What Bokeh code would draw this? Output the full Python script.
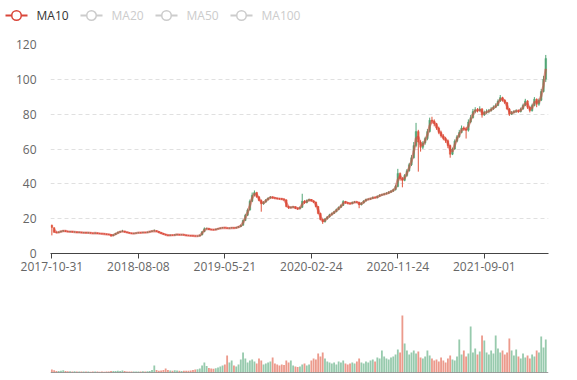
from bokeh.plotting import figure
from bokeh.layouts import column, row
from bokeh.models import ColumnDataSource, Range1d, FixedTicker, Span
from bokeh.core.properties import value
from bokeh.embed import file_html
from bokeh.resources import INLINE
import numpy as np

# ---- data (weekly candles, each candle = 5 trading days) ----
open_ = [16.2, 14.8, 12.3, 12.0, 12.4, 12.8, 13.0, 12.7, 12.4, 12.6,
         12.3, 12.4, 12.1, 12.2, 11.9, 12.0, 11.8, 11.9, 11.7, 11.6,
         11.8, 11.5, 11.4, 11.3, 11.2, 11.0, 10.9, 10.2, 10.8, 11.6,
         12.2, 12.6, 12.8, 12.3, 12.0, 11.7, 11.5, 11.6, 11.8, 12.0,
         11.9, 12.1, 12.0, 12.3, 12.6, 12.9, 13.0, 12.6, 12.0, 11.5,
         11.0, 10.6, 10.4, 10.6, 10.5, 10.8, 10.9, 10.7, 10.8, 10.6,
         10.4, 10.3, 10.2, 10.1, 10.0, 10.0, 10.6, 12.5, 14.2, 14.3,
         13.8, 13.7, 13.6, 14.0, 14.3, 14.6, 14.8, 14.7, 14.5, 14.6,
         14.8, 14.6, 15.0, 15.4, 16.2, 19.0, 22.0, 25.0, 30.0, 33.5,
         35.0, 32.5, 30.5, 28.5, 29.5, 30.8, 31.8, 32.4, 32.0, 31.8,
         31.5, 31.4, 31.2, 30.8, 27.0, 26.2, 26.6, 26.8, 26.0, 25.7,
         26.5, 30.0, 29.2, 30.5, 31.0, 30.2, 29.5, 27.0, 23.0, 19.5,
         18.2, 19.8, 21.0, 22.2, 23.0, 24.0, 25.2, 26.5, 27.6, 29.8,
         29.2, 28.8, 28.6, 29.3, 29.6, 29.4, 28.0, 29.0, 30.2, 31.0,
         31.2, 31.6, 32.2, 32.0, 32.8, 33.5, 33.8, 34.2, 34.6, 35.2,
         35.8, 36.6, 38.5, 46.0, 43.0, 42.0, 44.8, 47.5, 51.0, 55.0,
         62.0, 70.0, 64.0, 61.0, 63.5, 66.0, 70.0, 76.5, 76.0, 74.5,
         72.0, 69.5, 67.5, 66.0, 64.8, 62.0, 57.0, 60.0, 64.5, 67.0,
         69.5, 72.0, 71.5, 70.8, 75.5, 78.0, 81.5, 82.5, 82.0, 83.0,
         79.5, 81.0, 81.5, 82.0, 83.0, 84.0, 85.0, 87.5, 89.5, 88.0,
         86.6, 83.0, 80.0, 81.0, 81.5, 82.0, 81.5, 83.0, 85.0, 87.6,
         84.0, 82.0, 85.0, 88.6, 85.7, 88.0, 93.0, 100.0]
close = [15.0, 12.2, 12.0, 12.4, 12.8, 13.1, 12.7, 12.5, 12.6, 12.3,
         12.4, 12.1, 12.2, 11.9, 12.0, 11.8, 11.9, 11.7, 11.6, 11.8,
         11.5, 11.4, 11.3, 11.2, 11.0, 10.9, 10.2, 10.8, 11.6, 12.2,
         12.6, 12.8, 12.3, 12.0, 11.7, 11.5, 11.6, 11.8, 11.9, 11.9,
         12.1, 12.0, 12.3, 12.6, 12.9, 13.0, 12.6, 12.0, 11.5, 11.0,
         10.6, 10.4, 10.6, 10.5, 10.8, 10.9, 10.7, 10.8, 10.6, 10.4,
         10.3, 10.2, 10.1, 10.0, 10.0, 10.6, 12.5, 14.2, 14.3, 13.8,
         13.7, 13.6, 14.0, 14.3, 14.6, 14.8, 14.7, 14.5, 14.6, 14.8,
         14.6, 15.0, 15.4, 16.2, 19.0, 22.0, 25.0, 30.0, 33.5, 35.0,
         32.5, 30.5, 28.5, 29.5, 30.8, 31.8, 32.4, 32.0, 31.8, 31.5,
         31.4, 31.2, 30.8, 27.0, 26.2, 26.6, 26.8, 26.0, 25.7, 26.5,
         30.0, 29.2, 30.5, 31.0, 30.2, 29.5, 27.0, 23.0, 19.5, 18.2,
         19.8, 21.0, 22.2, 23.0, 24.0, 25.2, 26.5, 27.6, 29.8, 29.2,
         28.8, 28.6, 29.3, 29.6, 29.4, 28.0, 29.0, 30.2, 31.0, 31.2,
         31.6, 32.2, 32.0, 32.8, 33.5, 33.8, 34.2, 34.6, 35.2, 35.8,
         36.6, 38.5, 46.0, 43.0, 42.0, 44.8, 47.5, 51.0, 55.0, 62.0,
         70.0, 64.0, 61.0, 63.5, 66.0, 70.0, 76.5, 76.0, 74.5, 72.0,
         69.5, 67.5, 66.0, 64.8, 62.0, 57.0, 60.0, 64.5, 67.0, 69.5,
         72.0, 71.5, 70.8, 75.5, 78.0, 81.5, 82.5, 82.0, 83.0, 79.5,
         81.0, 81.5, 82.0, 83.0, 84.0, 85.0, 87.5, 89.5, 88.0, 86.6,
         83.0, 80.0, 81.0, 81.5, 82.0, 81.5, 83.0, 85.0, 87.6, 84.0,
         82.0, 85.0, 88.6, 85.7, 88.0, 93.0, 100.0, 112.0]
high = [16.6, 15.0, 12.6, 12.6, 13.0, 13.4, 13.2, 12.9, 12.8, 12.7,
        12.6, 12.5, 12.4, 12.3, 12.2, 12.1, 12.1, 12.0, 11.8, 12.0,
        11.9, 11.7, 11.6, 11.4, 11.3, 11.2, 11.0, 11.0, 11.8, 12.5,
        13.0, 13.6, 12.9, 12.4, 12.1, 11.8, 11.8, 12.0, 12.1, 12.1,
        12.3, 12.3, 12.5, 12.8, 13.3, 13.8, 13.2, 12.7, 12.1, 11.6,
        11.1, 10.8, 10.8, 10.7, 11.0, 11.1, 11.0, 11.0, 10.9, 10.7,
        10.5, 10.4, 10.3, 10.2, 10.2, 10.8, 12.8, 15.0, 14.8, 14.4,
        14.0, 13.9, 14.2, 14.5, 14.9, 15.1, 15.0, 14.8, 14.8, 15.0,
        14.9, 15.2, 15.7, 16.6, 19.5, 22.8, 25.8, 31.0, 35.0, 36.2,
        35.4, 33.0, 31.0, 30.0, 31.2, 32.2, 33.0, 32.8, 32.3, 32.0,
        31.9, 31.8, 31.5, 31.0, 27.4, 27.0, 27.2, 27.0, 26.4, 27.0,
        34.3, 30.6, 31.0, 31.5, 31.2, 30.5, 29.8, 27.3, 23.4, 20.0,
        20.3, 21.5, 22.8, 23.5, 24.5, 25.8, 27.0, 28.2, 30.6, 30.2,
        29.6, 29.2, 29.8, 30.2, 30.0, 29.7, 29.4, 30.6, 31.5, 31.7,
        32.0, 32.7, 32.6, 33.3, 34.0, 34.3, 34.8, 35.2, 35.8, 36.4,
        37.2, 39.5, 48.6, 46.5, 43.8, 45.6, 48.5, 52.0, 56.5, 64.0,
        75.0, 71.0, 65.0, 64.5, 67.0, 71.5, 78.0, 78.5, 77.0, 75.0,
        72.8, 70.5, 68.5, 67.0, 65.5, 62.5, 60.8, 65.5, 68.0, 71.0,
        73.5, 73.0, 72.5, 77.0, 79.5, 83.0, 84.0, 83.5, 84.5, 83.5,
        82.0, 82.8, 83.0, 84.0, 85.0, 86.2, 88.5, 91.0, 90.0, 88.5,
        87.0, 83.5, 81.8, 82.3, 82.8, 82.6, 83.8, 86.0, 88.8, 88.0,
        84.5, 86.0, 89.8, 89.0, 89.0, 94.5, 102.0, 114.0]
low = [10.4, 11.8, 11.7, 11.8, 12.2, 12.6, 12.5, 12.3, 12.3, 12.1,
       12.1, 12.0, 11.9, 11.8, 11.8, 11.6, 11.6, 11.5, 11.4, 11.5,
       11.3, 11.2, 11.1, 11.0, 10.8, 10.7, 9.6, 10.0, 10.7, 11.4,
       12.0, 12.4, 12.1, 11.8, 11.5, 11.3, 11.3, 11.5, 11.7, 11.7,
       11.8, 11.8, 11.9, 12.2, 12.5, 12.7, 12.5, 11.9, 11.4, 10.9,
       10.5, 10.2, 10.3, 10.3, 10.4, 10.6, 10.5, 10.6, 10.4, 10.2,
       10.1, 10.0, 9.9, 9.8, 9.8, 9.9, 10.5, 12.3, 13.8, 13.5,
       13.4, 13.4, 13.5, 13.9, 14.2, 14.5, 14.5, 14.3, 14.3, 14.5,
       14.3, 14.4, 14.9, 15.2, 16.0, 18.6, 21.5, 24.6, 29.5, 32.8,
       32.0, 30.0, 24.0, 28.0, 29.2, 30.5, 31.5, 31.5, 31.2, 31.0,
       30.9, 30.8, 30.2, 26.5, 25.6, 25.9, 26.2, 25.5, 25.0, 25.3,
       26.2, 28.5, 28.8, 30.0, 29.8, 29.0, 26.5, 22.5, 19.0, 17.0,
       17.8, 19.5, 20.6, 21.8, 22.7, 23.7, 24.9, 26.2, 27.3, 28.6,
       28.3, 28.1, 28.3, 29.0, 29.0, 26.0, 27.6, 28.7, 29.8, 30.6,
       30.9, 31.3, 31.6, 31.7, 32.5, 33.1, 33.5, 33.9, 34.2, 34.8,
       35.4, 36.2, 38.0, 41.8, 38.0, 41.5, 44.0, 47.0, 50.2, 54.5,
       61.0, 47.0, 58.5, 60.0, 62.5, 65.0, 69.5, 74.5, 73.0, 71.0,
       68.5, 66.5, 65.0, 63.5, 60.5, 55.0, 56.5, 59.5, 63.8, 66.5,
       69.0, 70.5, 66.0, 70.0, 74.8, 77.5, 80.5, 81.0, 81.5, 78.0,
       79.0, 80.2, 80.5, 81.5, 82.5, 83.5, 84.6, 87.0, 87.2, 85.8,
       82.5, 79.0, 79.5, 80.4, 80.8, 80.8, 81.0, 82.5, 84.6, 83.0,
       81.0, 81.5, 84.5, 84.0, 84.8, 87.5, 92.5, 98.5]
volume = [3.0, 2.2, 1.5, 1.4, 1.8, 2.2, 1.6, 1.3, 1.2, 1.1,
          1.2, 1.0, 1.1, 0.9, 1.0, 0.9, 1.0, 0.8, 0.9, 1.0,
          0.9, 0.8, 0.9, 0.8, 0.9, 1.0, 1.6, 1.4, 1.5, 1.8,
          1.6, 2.0, 1.4, 1.1, 1.0, 0.9, 0.9, 1.0, 1.0, 1.1,
          1.2, 1.1, 1.3, 1.6, 2.4, 7.0, 2.5, 1.8, 2.0, 2.6,
          4.0, 2.4, 2.0, 1.7, 2.2, 2.0, 1.8, 1.6, 1.8, 1.7,
          1.8, 2.0, 2.4, 3.0, 3.2, 4.0, 7.0, 10.0, 6.5, 4.5,
          4.0, 3.8, 4.2, 5.0, 6.0, 7.0, 8.0, 17.0, 10.0, 12.0,
          7.0, 6.0, 8.0, 13.0, 20.0, 14.0, 10.0, 12.0, 13.0, 11.0,
          9.0, 14.0, 12.0, 8.0, 9.0, 10.0, 11.0, 15.0, 9.0, 8.0,
          7.0, 8.0, 7.5, 12.0, 10.0, 12.0, 7.0, 6.0, 5.5, 6.0,
          8.0, 9.0, 7.0, 8.0, 12.0, 14.0, 13.0, 19.0, 16.0, 20.0,
          14.0, 11.0, 10.0, 9.0, 10.0, 8.0, 11.0, 10.0, 12.0, 9.0,
          8.0, 9.0, 10.0, 9.0, 11.0, 14.0, 10.0, 9.0, 11.0, 10.0,
          12.0, 13.0, 11.0, 15.0, 14.0, 22.0, 16.0, 14.0, 13.0, 15.0,
          16.0, 18.0, 23.0, 20.0, 57.0, 29.0, 22.0, 18.0, 20.0, 22.0,
          19.0, 21.0, 15.0, 14.0, 16.0, 22.0, 17.0, 14.0, 12.0, 13.0,
          11.0, 15.0, 12.0, 10.0, 14.0, 17.0, 13.0, 12.0, 16.0, 33.0,
          18.0, 22.0, 16.0, 19.0, 46.0, 20.0, 24.0, 18.0, 21.0, 37.0,
          32.0, 20.0, 18.0, 22.0, 19.0, 37.0, 24.0, 20.0, 22.0, 18.0,
          20.0, 34.0, 22.0, 17.0, 23.0, 16.0, 14.0, 19.0, 15.0, 17.0,
          14.0, 18.0, 16.0, 22.0, 20.0, 36.0, 25.0, 33.0]

tick_index = [0, 38, 76, 114, 152, 190]
tick_labels = ["2017-10-31", "2018-08-08", "2019-05-21",
               "2020-02-24", "2020-11-24", "2021-09-01"]
legend_names = ["MA10", "MA20", "MA50", "MA100"]
legend_active = [True, False, False, False]

# ---- styles ----
UP = "#52a676"
DOWN = "#e0563f"
MA_COLOR = "#d9463a"
FONT = "Open Sans"
W = 561

n = len(close)
idx = np.arange(n)
o = np.array(open_); c = np.array(close)
up = c >= o
colors = [UP if u else DOWN for u in up]
# MA10 over trading days = 2 weekly candles
ma10 = np.full(n, np.nan)
ma10[1:] = (c[1:] + c[:-1]) / 2.0

src = ColumnDataSource(dict(x=idx, top=np.maximum(o, c), bottom=np.minimum(o, c),
                            high=high, low=low, color=colors, vol=volume))

xr = Range1d(-0.6, 218.2)

# ---- legend strip (data coords = pixel coords) ----
leg = figure(width=W, height=36, x_range=Range1d(0, W), y_range=Range1d(36, 0),
             output_backend="svg", toolbar_location=None,
             x_axis_location=None, y_axis_location=None,
             min_border_left=0, min_border_right=0, min_border_top=0, min_border_bottom=0)
leg.outline_line_color = None
leg.grid.visible = False
icon_x = [5, 80, 155, 230]
lcol = [MA_COLOR if a else "#cccccc" for a in legend_active]
tcol = ["#333333" if a else "#cccccc" for a in legend_active]
leg.segment(x0=icon_x, y0=[15] * 4, x1=[v + 22 for v in icon_x], y1=[15] * 4,
            line_color=lcol, line_width=1.8)
leg.scatter(x=[v + 11 for v in icon_x], y=[15] * 4, size=9.5, marker="circle",
            fill_color="white", line_color=lcol, line_width=1.5)
leg.text(x=[v + 31 for v in icon_x], y=[15] * 4, text=legend_names,
         text_font=value(FONT), text_font_size="12px", text_baseline="middle",
         text_color=tcol)

# ---- main candlestick ----
p = figure(width=W, height=247, x_range=xr, y_range=Range1d(0, 120),
           output_backend="svg", toolbar_location=None,
           min_border_left=50, min_border_right=13, min_border_top=8, min_border_bottom=30)
p.outline_line_color = None
p.xgrid.visible = False
p.ygrid.grid_line_color = "#e0e0e0"
p.ygrid.grid_line_dash = "4 3"
p.yaxis.ticker = FixedTicker(ticks=[0, 20, 40, 60, 80, 100, 120])
p.yaxis.axis_line_color = None
p.yaxis.major_tick_line_color = None
p.yaxis.minor_tick_line_color = None
p.yaxis.major_label_standoff = 8
p.xaxis.ticker = FixedTicker(ticks=tick_index)
p.xaxis.major_label_overrides = {i: s for i, s in zip(tick_index, tick_labels)}
p.xaxis.axis_line_color = "#444444"
p.xaxis.major_tick_line_color = "#444444"
p.xaxis.major_tick_out = 5
p.xaxis.major_tick_in = 0
p.xaxis.minor_tick_line_color = None
p.xaxis.major_label_standoff = 3
for ax in (p.xaxis, p.yaxis):
    ax.major_label_text_font = FONT
    ax.major_label_text_font_size = "12px"
    ax.major_label_text_color = "#666666"

p.segment(x0="x", y0="low", x1="x", y1="high", source=src, line_color="color", line_width=1)
p.vbar(x="x", top="top", bottom="bottom", width=0.7, source=src,
       fill_color="color", line_color="color", line_width=0.5)
p.line(idx, ma10, line_color=MA_COLOR, line_width=2.5, line_alpha=0.55)

# ---- volume ----
v = figure(width=W, height=90, x_range=xr, y_range=Range1d(0, 72),
           output_backend="svg", toolbar_location=None,
           x_axis_location=None, y_axis_location=None,
           min_border_left=50, min_border_right=13, min_border_top=17, min_border_bottom=1)
v.outline_line_color = None
v.grid.visible = False
v.vbar(x="x", top="vol", bottom=0, width=0.8, source=src,
       fill_color="color", fill_alpha=0.6, line_color=None)
v.add_layout(Span(location=0, dimension="width", line_color="#444444", line_width=1))

layout = column(row(leg), p, v, spacing=0)
open("out.html", "w").write(file_html(layout, INLINE))
